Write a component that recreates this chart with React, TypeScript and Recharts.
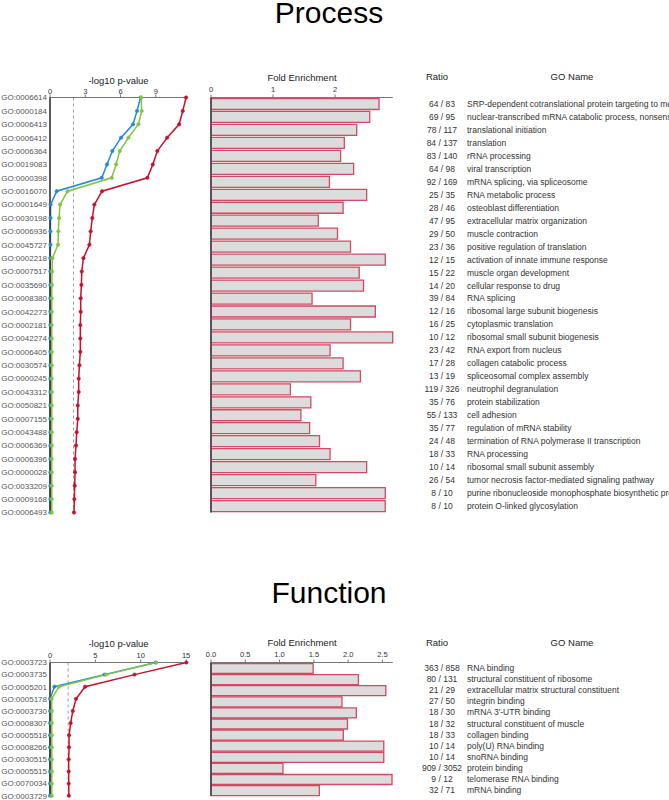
import React from 'react';
import {
  LineChart,
  Line,
  BarChart,
  Bar,
  XAxis,
  YAxis,
  ReferenceLine,
} from 'recharts';

// ── Process (top) ─────────────────────────────────────────────────────────────

const PROC_IDS = [
  'GO:0006614', 'GO:0000184', 'GO:0006413', 'GO:0006412', 'GO:0006364', 'GO:0019083',
  'GO:0000398', 'GO:0016070', 'GO:0001649', 'GO:0030198', 'GO:0006936', 'GO:0045727',
  'GO:0002218', 'GO:0007517', 'GO:0035690', 'GO:0008380', 'GO:0042273', 'GO:0002181',
  'GO:0042274', 'GO:0006405', 'GO:0030574', 'GO:0000245', 'GO:0043312', 'GO:0050821',
  'GO:0007155', 'GO:0043488', 'GO:0006369', 'GO:0006396', 'GO:0000028', 'GO:0033209',
  'GO:0009168', 'GO:0006493',
];

const PROC_RATIOS = [
  '64 / 83', '69 / 95', '78 / 117', '84 / 137', '83 / 140', '64 / 98', '92 / 169', '25 / 35',
  '28 / 46', '47 / 95', '29 / 50', '23 / 36', '12 / 15', '15 / 22', '14 / 20', '39 / 84',
  '12 / 16', '16 / 25', '10 / 12', '23 / 42', '17 / 28', '13 / 19', '119 / 326', '35 / 76',
  '55 / 133', '35 / 77', '24 / 48', '18 / 33', '10 / 14', '26 / 54', '8 / 10', '8 / 10',
];

const PROC_NAMES = [
  'SRP-dependent cotranslational protein targeting to membrane',
  'nuclear-transcribed mRNA catabolic process, nonsense-mediated decay',
  'translational initiation',
  'translation',
  'rRNA processing',
  'viral transcription',
  'mRNA splicing, via spliceosome',
  'RNA metabolic process',
  'osteoblast differentiation',
  'extracellular matrix organization',
  'muscle contraction',
  'positive regulation of translation',
  'activation of innate immune response',
  'muscle organ development',
  'cellular response to drug',
  'RNA splicing',
  'ribosomal large subunit biogenesis',
  'cytoplasmic translation',
  'ribosomal small subunit biogenesis',
  'RNA export from nucleus',
  'collagen catabolic process',
  'spliceosomal complex assembly',
  'neutrophil degranulation',
  'protein stabilization',
  'cell adhesion',
  'regulation of mRNA stability',
  'termination of RNA polymerase II transcription',
  'RNA processing',
  'ribosomal small subunit assembly',
  'tumor necrosis factor-mediated signaling pathway',
  'purine ribonucleoside monophosphate biosynthetic process',
  'protein O-linked glycosylation',
];

const PROC_FOLD = [
  2.71, 2.56, 2.35, 2.15, 2.09, 2.3, 1.91, 2.51, 2.13, 1.73, 2.04, 2.25, 2.81, 2.39, 2.46, 1.63,
  2.65, 2.25, 2.93, 1.92, 2.13, 2.41, 1.28, 1.61, 1.45, 1.59, 1.75, 1.92, 2.51, 1.69, 2.81, 2.81,
];

const PROC_BLUE = [
  7.7, 7.4, 7.06, 6.04, 5.3, 4.85, 4.4, 0.57, 0.05, 0.04, 0.04, 0.04, 0.03, 0.03, 0.03, 0.03,
  0.03, 0.03, 0.03, 0.03, 0.03, 0.03, 0.03, 0.03, 0.03, 0.03, 0.03, 0.03, 0.03, 0.03, 0.03, 0.03,
];

const PROC_GREEN = [
  7.74, 7.8, 7.52, 6.67, 5.93, 5.62, 5.25, 1.5, 0.85, 0.77, 0.71, 0.68, 0.2, 0.18, 0.16, 0.15,
  0.15, 0.15, 0.15, 0.15, 0.15, 0.15, 0.15, 0.15, 0.15, 0.15, 0.15, 0.15, 0.15, 0.15, 0.15, 0.15,
];

const PROC_RED = [
  11.57, 11.29, 10.98, 9.96, 9.13, 8.74, 8.28, 4.43, 3.77, 3.6, 3.46, 3.35, 2.84, 2.7, 2.67, 2.61,
  2.61, 2.58, 2.58, 2.58, 2.5, 2.44, 2.44, 2.36, 2.36, 2.27, 2.21, 2.13, 2.13, 2.1, 2.07, 2.04,
];

// ── Function (bottom) ─────────────────────────────────────────────────────────

const FUNC_IDS = [
  'GO:0003723', 'GO:0003735', 'GO:0005201', 'GO:0005178', 'GO:0003730', 'GO:0008307',
  'GO:0005518', 'GO:0008266', 'GO:0030515', 'GO:0005515', 'GO:0070034', 'GO:0003729',
];

const FUNC_RATIOS = [
  '363 / 858', '80 / 131', '21 / 29', '27 / 50', '18 / 30', '18 / 32', '18 / 33', '10 / 14',
  '10 / 14', '909 / 3052', '9 / 12', '32 / 71',
];

const FUNC_NAMES = [
  'RNA binding',
  'structural constituent of ribosome',
  'extracellular matrix structural constituent',
  'integrin binding',
  "mRNA 3'-UTR binding",
  'structural constituent of muscle',
  'collagen binding',
  'poly(U) RNA binding',
  'snoRNA binding',
  'protein binding',
  'telomerase RNA binding',
  'mRNA binding',
];

const FUNC_FOLD = [1.49, 2.15, 2.55, 1.91, 2.12, 1.99, 1.93, 2.52, 2.52, 1.05, 2.64, 1.58];

const FUNC_BLUE = [11.65, 6.0, 0.48, 0, 0, 0, 0, 0, 0, 0, 0, 0];
const FUNC_GREEN = [11.71, 6.19, 0.99, 0.18, 0.2, 0.2, 0.2, 0.2, 0.2, 0.2, 0.2, 0.2];
const FUNC_RED = [15.03, 9.32, 3.87, 2.87, 2.51, 2.28, 2.1, 2.1, 2.06, 2.06, 2.06, 2.08];

// ── Shared styles ─────────────────────────────────────────────────────────────

const FONT = '"Liberation Sans", Arial, sans-serif';
const BLUE = '#2389d7';
const GREEN = '#84c441';
const RED = '#c8102e';

const TICK_STYLE = { fontSize: 7.5, fill: '#333333', fontFamily: FONT };
const ID_STYLE = { fontSize: 8, fill: '#555555', fontFamily: FONT };

interface Row {
  id: string;
  ratio: string;
  name: string;
  fold: number;
  blue: number;
  green: number;
  red: number;
}

function buildRows(
  ids: string[],
  ratios: string[],
  names: string[],
  fold: number[],
  blue: number[],
  green: number[],
  red: number[],
): Row[] {
  return ids.map((id, i) => ({
    id,
    ratio: ratios[i],
    name: names[i],
    fold: fold[i],
    blue: blue[i],
    green: green[i],
    red: red[i],
  }));
}

const PROC_ROWS = buildRows(PROC_IDS, PROC_RATIOS, PROC_NAMES, PROC_FOLD, PROC_BLUE, PROC_GREEN, PROC_RED);
const FUNC_ROWS = buildRows(FUNC_IDS, FUNC_RATIOS, FUNC_NAMES, FUNC_FOLD, FUNC_BLUE, FUNC_GREEN, FUNC_RED);

// ── Ratio / GO name column, drawn as ticks of the bar chart's category axis ──

function makeRowLabel(rows: Row[]) {
  const byId: Record<string, Row> = {};
  rows.forEach((r) => (byId[r.id] = r));
  return function RowLabel(props: any) {
    const { y, payload } = props;
    const row = byId[payload?.value];
    if (!row) return null;
    return (
      <g>
        <text x={242} y={y} dy="0.35em" textAnchor="middle" fontSize={8.5} fill="#333" fontFamily={FONT}>
          {row.ratio}
        </text>
        <text x={267} y={y} dy="0.35em" textAnchor="start" fontSize={8.5} fill="#333" fontFamily={FONT}>
          {row.name}
        </text>
      </g>
    );
  };
}

// ── One section: p-value lines + fold enrichment bars ────────────────────────

interface SectionProps {
  rows: Row[];
  top: number;
  height: number;
  marginTop: number;
  marginBottom: number;
  pMax: number;
  pTicks: number[];
  pTickMargin: number;
  fMax: number;
  fTicks: number[];
  fDigits: number;
  fTickMargin: number;
  barSize: number;
}

function Section(p: SectionProps) {
  const RowLabel = makeRowLabel(p.rows);
  return (
    <>
      <div style={{ position: 'absolute', left: 0, top: p.top }}>
        <LineChart
          width={200}
          height={p.height}
          data={p.rows}
          layout="vertical"
          margin={{ top: p.marginTop, right: 13, bottom: p.marginBottom, left: 0 }}
        >
          <XAxis
            type="number"
            orientation="top"
            domain={[0, p.pMax]}
            ticks={p.pTicks}
            height={12}
            tick={TICK_STYLE}
            tickSize={3}
            tickMargin={p.pTickMargin}
            stroke="#777"
            axisLine={{ stroke: '#777', strokeWidth: 1.2 }}
          />
          <YAxis
            type="category"
            dataKey="id"
            width={50}
            interval={0}
            tick={ID_STYLE}
            tickLine={false}
            tickSize={1}
            tickMargin={2}
            axisLine={{ stroke: '#333', strokeWidth: 1.6 }}
          />
          <ReferenceLine x={2} stroke="#9a9a9a" strokeDasharray="3 3" strokeWidth={1} />
          <Line dataKey="blue" stroke={BLUE} strokeWidth={1.5} dot={{ r: 1.7, fill: BLUE, stroke: BLUE, strokeWidth: 0.6 }} isAnimationActive={false} />
          <Line dataKey="green" stroke={GREEN} strokeWidth={1.5} dot={{ r: 1.7, fill: GREEN, stroke: GREEN, strokeWidth: 0.6 }} isAnimationActive={false} />
          <Line dataKey="red" stroke={RED} strokeWidth={1.5} dot={{ r: 1.7, fill: RED, stroke: RED, strokeWidth: 0.6 }} isAnimationActive={false} />
        </LineChart>
      </div>

      <div style={{ position: 'absolute', left: 200, top: p.top }}>
        <BarChart
          width={469}
          height={p.height}
          data={p.rows}
          layout="vertical"
          barSize={p.barSize}
          margin={{ top: p.marginTop, right: 276.3, bottom: p.marginBottom, left: 0 }}
        >
          <XAxis
            type="number"
            orientation="top"
            domain={[0, p.fMax]}
            ticks={p.fTicks}
            tickFormatter={(v: number) => v.toFixed(p.fDigits)}
            height={12}
            tick={TICK_STYLE}
            tickSize={3}
            tickMargin={p.fTickMargin}
            stroke="#777"
            axisLine={{ stroke: '#777', strokeWidth: 1.2 }}
          />
          <YAxis
            type="category"
            dataKey="id"
            width={11}
            interval={0}
            tick={<RowLabel />}
            tickLine={false}
            axisLine={{ stroke: '#444', strokeWidth: 1.6 }}
          />
          <Bar
            dataKey="fold"
            fill="#dcdcdc"
            stroke="#cc2d4b"
            strokeWidth={1.3}
            strokeOpacity={0.85}
            isAnimationActive={false}
          />
        </BarChart>
      </div>
    </>
  );
}

// ── Titles and column headers ─────────────────────────────────────────────────

function Headers() {
  const h = { fontSize: 9.5, fill: '#222', fontFamily: FONT, textAnchor: 'middle' as const };
  return (
    <svg width={669} height={800} style={{ position: 'absolute', left: 0, top: 0 }}>
      <text x={329} y={23} fontSize={30} fill="#000" fontFamily={FONT} textAnchor="middle">Process</text>
      <text x={118.5} y={83.5} {...h}>-log10 p-value</text>
      <text x={302} y={80.5} {...h}>Fold Enrichment</text>
      <text x={437} y={80} {...h}>Ratio</text>
      <text x={572} y={80} {...h}>GO Name</text>

      <text x={329} y={603} fontSize={30} fill="#000" fontFamily={FONT} textAnchor="middle">Function</text>
      <text x={118.5} y={647} {...h}>-log10 p-value</text>
      <text x={302} y={646} {...h}>Fold Enrichment</text>
      <text x={437} y={646} {...h}>Ratio</text>
      <text x={572} y={646} {...h}>GO Name</text>
    </svg>
  );
}

export default function App() {
  return (
    <div
      style={{
        position: 'absolute',
        left: 0,
        top: 0,
        width: 669,
        height: 800,
        overflow: 'hidden',
        background: '#fff',
        fontFamily: FONT,
      }}
    >
      <Headers />
      <Section
        rows={PROC_ROWS}
        top={0}
        height={520}
        marginTop={85.5}
        marginBottom={7.5}
        pMax={11.65}
        pTicks={[0, 3, 6, 9]}
        pTickMargin={0.5}
        fMax={2.93}
        fTicks={[0, 1, 2]}
        fDigits={0}
        fTickMargin={3}
        barSize={11}
      />
      <Section
        rows={FUNC_ROWS}
        top={600}
        height={200}
        marginTop={50.5}
        marginBottom={4.3}
        pMax={15.1}
        pTicks={[0, 5, 10, 15]}
        pTickMargin={2}
        fMax={2.65}
        fTicks={[0, 0.5, 1, 1.5, 2, 2.5]}
        fDigits={1}
        fTickMargin={2.8}
        barSize={10}
      />
    </div>
  );
}
